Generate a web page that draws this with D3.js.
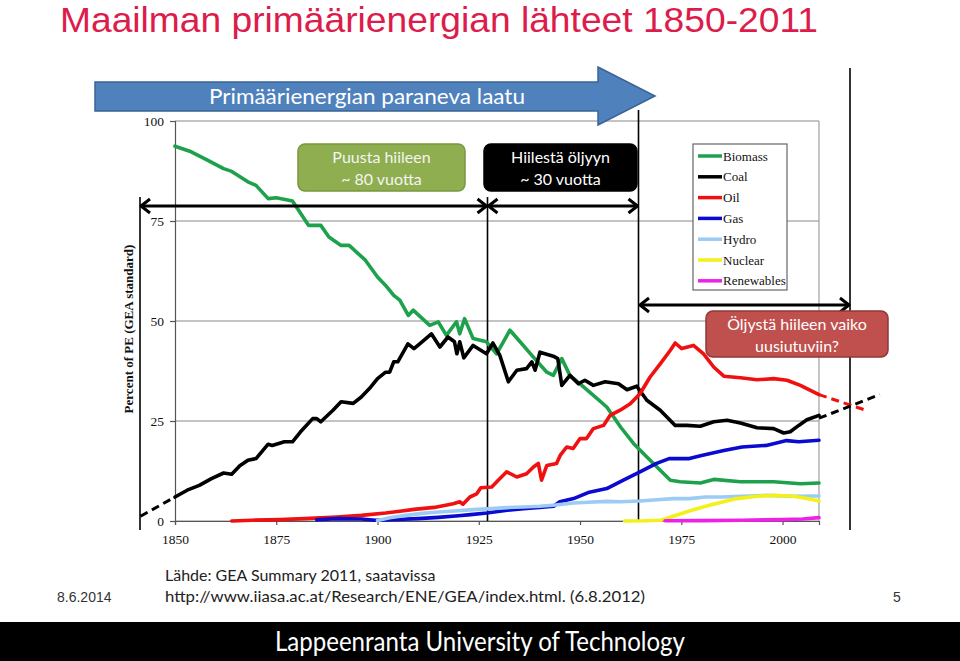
<!DOCTYPE html>
<html><head><meta charset="utf-8">
<script src="https://cdn.jsdelivr.net/npm/d3@7"></script>
<style>body{margin:0;background:#fff;}svg{display:block;}</style>
</head><body>
<svg id="c" width="960" height="661"></svg>
<script>
// ---------- data ----------
const seriesNames = ["Biomass","Coal","Oil","Gas","Hydro","Nuclear","Renewables"];
const seriesColors = ["#1ea14c","#000000","#f01010","#0a0ad0","#9ccbf3","#f3f01a","#ee22e6"];
const biomass = [[1850,93.7],[1854,92.3],[1858,90.2],[1862,88.1],[1864,87.4],[1868,84.8],[1870,83.9],[1873,80.6],[1875,80.8],[1879,80.0],[1883,73.9],[1886,73.9],[1888,71.0],[1891,68.9],[1893,68.9],[1897,65.2],[1900,61.0],[1902,58.9],[1904,56.4],[1905.5,55.2],[1907.6,51.4],[1908.8,52.7],[1912.9,48.9],[1915,49.8],[1917,46.4],[1919.5,49.8],[1920.3,46.8],[1921.5,50.6],[1923.6,45.6],[1926.9,44.8],[1929.4,41.8],[1932.7,47.7],[1935.2,44.8],[1938.1,41.4],[1941.8,37.2],[1943.4,36.4],[1945.5,40.6],[1947.5,36.4],[1950,34.3],[1953.3,31.4],[1956.6,28.5],[1960,23.5],[1963.2,19.4],[1966.5,16.0],[1969.8,12.7],[1972.3,10.2],[1974.7,9.8],[1979.7,9.5],[1983,10.4],[1989.6,9.8],[1997.8,9.8],[2004.4,9.3],[2009,9.5]];
const coal = [[1850,6.0],[1853,7.7],[1856,8.9],[1859,10.6],[1862,12.0],[1864,11.7],[1866,13.8],[1868,15.2],[1870,15.6],[1873,19.2],[1874,18.9],[1877,19.8],[1879,19.8],[1881,22.3],[1884,25.6],[1885,25.6],[1886,24.8],[1889,27.7],[1891,29.8],[1894,29.4],[1896,31.0],[1898,33.1],[1900,35.6],[1902,37.2],[1903,37.2],[1904,39.8],[1905,39.8],[1907.5,44.3],[1909,43.1],[1911,44.8],[1913.3,46.8],[1915.4,43.5],[1917.4,46.0],[1919,44.8],[1919.6,41.8],[1920.3,44.8],[1921.3,40.8],[1923.6,43.9],[1926.9,41.8],[1928.5,44.5],[1930.2,41.4],[1932.3,34.8],[1934.4,37.7],[1936.8,38.1],[1938.1,39.8],[1938.9,37.7],[1940.1,42.2],[1943.4,41.2],[1944.5,40.6],[1945.5,33.9],[1947.5,36.4],[1949.6,34.3],[1951.2,35.2],[1953.3,33.9],[1956.2,34.8],[1959.5,34.3],[1961.6,32.8],[1964,33.7],[1966.5,30.2],[1969.8,27.7],[1973.5,23.9],[1976.4,23.9],[1979.7,23.7],[1983,24.8],[1986.3,25.2],[1989.6,24.5],[1993.7,23.3],[1997.8,23.1],[2000.3,22.0],[2001.9,22.3],[2004,23.9],[2006,25.3],[2009,26.4]];
const oil = [[1864,0],[1869,0.2],[1876,0.35],[1882,0.6],[1890,1.0],[1896,1.4],[1902,2.0],[1906,2.5],[1909,2.9],[1914,3.4],[1918.7,4.3],[1920.3,4.8],[1921.1,4.2],[1922.8,6.0],[1924.5,6.8],[1925.5,8.3],[1928.2,8.5],[1929.8,10.2],[1931.9,12.3],[1934.4,11.0],[1936.8,11.8],[1938.5,13.5],[1939.7,14.4],[1940.5,10.2],[1941.8,13.9],[1944.2,14.4],[1945.1,16.4],[1946.7,18.5],[1948.3,18.1],[1950,20.6],[1951.6,20.6],[1953.3,23.1],[1955.8,23.9],[1957.4,26.4],[1959.9,27.7],[1962.4,29.3],[1964.8,31.8],[1967.3,36.0],[1969.8,39.3],[1972.3,42.7],[1973.5,44.5],[1975.1,43.1],[1978,43.9],[1980.5,41.8],[1983,38.5],[1985.5,36.2],[1989.6,35.8],[1993.7,35.3],[1997.8,35.6],[2001.1,35.2],[2004.4,33.9],[2009,31.6]];
const gas = [[1885,0.3],[1890,0.6],[1896,0.5],[1899.5,0.2],[1903,0.3],[1910,0.6],[1915,0.9],[1920,1.3],[1923,1.6],[1927,2.0],[1932,2.7],[1936,3.1],[1940,3.4],[1943.5,3.7],[1945,4.8],[1948.4,5.6],[1952,7.1],[1956.6,8.1],[1960.7,10.2],[1964.8,12.3],[1968.9,14.4],[1972,15.6],[1977,15.6],[1980,16.4],[1985.5,17.6],[1990,18.5],[1996,18.9],[2001,20.1],[2004,19.8],[2009,20.2]];
const hydro = [[1900,0.1],[1903,0.8],[1907,1.4],[1911,1.9],[1915,2.25],[1919,2.5],[1923.6,2.85],[1928,3.1],[1932,3.35],[1936,3.5],[1940,3.7],[1944,4.0],[1948.4,4.5],[1952,4.7],[1956.6,4.9],[1960,4.8],[1964.8,5.0],[1969,5.3],[1973,5.6],[1977,5.6],[1981,6.0],[1985,6.0],[1989.6,6.2],[1996,6.4],[2002,6.2],[2009,6.25]];
const nuclear = [[1961,0],[1966,0.05],[1970,0.2],[1973,1.2],[1977,2.5],[1981,3.7],[1985.4,4.8],[1988.7,5.6],[1993.7,6.2],[1997.8,6.4],[2002.7,6.2],[2006,5.6],[2009,5.0]];
const renewables = [[1971,0.05],[1980,0.1],[1990,0.2],[2000,0.35],[2005,0.5],[2009,0.85]];
const seriesData = [biomass, coal, oil, gas, hydro, nuclear, renewables];
// dashed extrapolations drawn on the slide
const coalBack = [[1841.5,1.2],[1850,6.0]];
const oilFwd = [[2009,31.6],[2020.5,27.7]];
const coalFwd = [[2009,25.7],[2024,31.6]];
const yTicks = [0,25,50,75,100];
const xTicks = [1850,1875,1900,1925,1950,1975,2000];

// ---------- drawing ----------
const svg = d3.select("#c");
const serif = "'Liberation Serif','Times New Roman',serif";
const sans = "Lato,'Open Sans',sans-serif";
const x = d3.scaleLinear().domain([1850, 2009]).range([175, 819]);
const y = d3.scaleLinear().domain([0, 100]).range([521, 121]);

// title
svg.append("text").attr("x", 60).attr("y", 31.5).attr("textLength", 758).attr("lengthAdjust","spacingAndGlyphs")
  .style("font-family","'Liberation Sans',Arial,sans-serif").style("font-size","34.5px").attr("fill","#dc1c4a")
  .text("Maailman primäärienergian lähteet 1850-2011");

// grid
const g = svg.append("g");
g.selectAll("line.grid").data(yTicks).join("line").attr("class","grid")
  .attr("x1", x(1850)).attr("x2", x(2009)).attr("y1", d=>y(d)).attr("y2", d=>y(d))
  .attr("stroke","#8a8a8a").attr("stroke-width",1.2);
g.append("line").attr("x1", x(2009)).attr("x2", x(2009)).attr("y1", y(100)).attr("y2", y(0)).attr("stroke","#a0a0a0").attr("stroke-width",1.2);

// axes
const yAxis = d3.axisLeft(y).tickValues(yTicks).tickSize(5).tickPadding(6);
const yg = svg.append("g").attr("transform",`translate(${x(1850)},0)`).call(yAxis);
const xAxis = d3.axisBottom(x).tickValues(xTicks).tickSize(4).tickPadding(9).tickFormat(d3.format("d"));
const xg = svg.append("g").attr("transform",`translate(0,${y(0)})`).call(xAxis);
[yg,xg].forEach(a=>{
  a.select(".domain").attr("stroke","#555").attr("stroke-width",1.2);
  a.selectAll(".tick line").attr("stroke","#555").attr("stroke-width",1.2);
  a.selectAll(".tick text").style("font-family",serif).style("font-size","13.5px").attr("fill","#111");
});
svg.append("text").attr("transform",`translate(133,${y(48)}) rotate(-90)`).attr("text-anchor","middle")
  .style("font-family",serif).style("font-size","13px").style("font-weight","bold").attr("fill","#111")
  .text("Percent of PE (GEA standard)");

// vertical annotation lines
const vlines = [[140,197,530],[487.5,197,521],[638.5,110,521],[850,68,530]];
svg.selectAll("line.v").data(vlines).join("line").attr("class","v")
  .attr("x1",d=>d[0]).attr("x2",d=>d[0]).attr("y1",d=>d[1]).attr("y2",d=>d[2])
  .attr("stroke","#000").attr("stroke-width",1.6);

// series lines
const line = d3.line().x(d=>x(d[0])).y(d=>y(d[1]));
svg.append("g").selectAll("path").data(seriesData).join("path")
  .attr("d", line).attr("fill","none").attr("stroke",(d,i)=>seriesColors[i])
  .attr("stroke-width",3.6).attr("stroke-linejoin","round").attr("stroke-linecap","round");
// dashed extrapolations
[[coalBack,"#000"],[oilFwd,"#f01010"],[coalFwd,"#000"]].forEach(([d,c])=>{
  svg.append("path").attr("d", line(d)).attr("fill","none").attr("stroke",c).attr("stroke-width",3).attr("stroke-dasharray","8,5");
});

// legend
const lg = svg.append("g").attr("transform","translate(693,144)");
lg.append("rect").attr("width",94).attr("height",146).attr("fill","#fff").attr("stroke","#666").attr("stroke-width",1.2);
const li = lg.selectAll("g.item").data(seriesNames).join("g").attr("class","item")
  .attr("transform",(d,i)=>`translate(0,${12 + i*20.8})`);
li.append("line").attr("x1",5).attr("x2",29).attr("stroke",(d,i)=>seriesColors[i]).attr("stroke-width",3.5);
li.append("text").attr("x",30).attr("y",4.5).style("font-family",serif).style("font-size","13px").attr("fill","#111").text(d=>d);

// blue arrow
svg.append("path").attr("d","M95,82 L598,82 L598,67 L655,96 L598,125 L598,111 L95,111 Z")
  .attr("fill","#4f81bd").attr("stroke","#3a6394").attr("stroke-width",1.5);
svg.append("text").attr("x",367).attr("y",104).attr("text-anchor","middle").attr("textLength",316).attr("lengthAdjust","spacingAndGlyphs")
  .style("font-family",sans).style("font-size","21px").attr("fill","#fff").text("Primäärienergian paraneva laatu");

// double arrows
function dbl(x1,x2,yy){
  svg.append("line").attr("x1",x1+1).attr("x2",x2-1).attr("y1",yy).attr("y2",yy).attr("stroke","#000").attr("stroke-width",3);
  svg.append("path").attr("d",`M${x1+10},${yy-7} L${x1+1},${yy} L${x1+10},${yy+7}`).attr("fill","none").attr("stroke","#000").attr("stroke-width",3).attr("stroke-linejoin","round");
  svg.append("path").attr("d",`M${x2-10},${yy-7} L${x2-1},${yy} L${x2-10},${yy+7}`).attr("fill","none").attr("stroke","#000").attr("stroke-width",3).attr("stroke-linejoin","round");
}
dbl(140,487.5,206); dbl(487.5,638.5,206); dbl(639,850,305);

// label boxes
function box(x0,y0,w,h,fill,stroke,lines,col){
  svg.append("rect").attr("x",x0).attr("y",y0).attr("width",w).attr("height",h).attr("rx",7)
    .attr("fill",fill).attr("stroke",stroke).attr("stroke-width",1.5);
  lines.forEach((t,i)=>svg.append("text").attr("x",x0+w/2).attr("y",y0+19+i*22).attr("text-anchor","middle")
    .style("font-family",sans).style("font-size","16px").attr("fill",col).text(t));
}
box(298,144,167,47,"#8fae4f","#7a9740",["Puusta hiileen","~ 80 vuotta"],"#f4f4f4");
box(484,144,153,47,"#000","#000",["Hiilestä öljyyn","~ 30 vuotta"],"#fff");
box(706,311,182,46,"#c0504d","#8c3836",["Öljystä hiileen vaiko","uusiutuviin?"],"#fff");

// footer
svg.append("text").attr("x",57).attr("y",602).style("font-family","'Liberation Sans',Arial,sans-serif").style("font-size","14px").attr("fill","#333").text("8.6.2014");
svg.append("text").attr("x",165).attr("y",581).style("font-family",sans).style("font-size","16px").attr("fill","#222").text("Lähde: GEA Summary 2011, saatavissa");
svg.append("text").attr("x",165).attr("y",602).attr("textLength",480).attr("lengthAdjust","spacingAndGlyphs").style("font-family",sans).style("font-size","16px").attr("fill","#222").text("http://www.iiasa.ac.at/Research/ENE/GEA/index.html. (6.8.2012)");
svg.append("text").attr("x",893).attr("y",602).style("font-family","'Liberation Sans',Arial,sans-serif").style("font-size","14px").attr("fill","#333").text("5");
svg.append("rect").attr("x",0).attr("y",622).attr("width",960).attr("height",39).attr("fill","#000");
svg.append("text").attr("x",480).attr("y",651).attr("text-anchor","middle").attr("textLength",410).attr("lengthAdjust","spacingAndGlyphs")
  .style("font-family",sans).style("font-size","26px").attr("fill","#fff").text("Lappeenranta University of Technology");
</script>
</body></html>
